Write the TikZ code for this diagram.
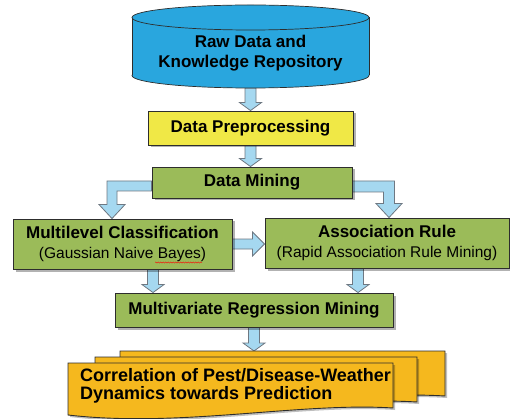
\documentclass[tikz,border=0pt]{standalone}
\usepackage{fontspec}
\setmainfont{Liberation Sans}
\usetikzlibrary{calc,shadows,backgrounds,decorations.pathmorphing}
\definecolor{cylblue}{RGB}{41,166,222}
\definecolor{arrblue}{RGB}{165,216,240}
\definecolor{arredge}{RGB}{110,120,130}
\definecolor{boxyellow}{RGB}{240,232,70}
\definecolor{boxgreen}{RGB}{155,187,89}
\definecolor{docorange}{RGB}{245,184,30}
\definecolor{edgegray}{RGB}{45,45,45}
\tikzset{
 boxbase/.style={draw=edgegray, line width=0.9pt, inner sep=0pt,
   drop shadow={shadow xshift=2.5pt,shadow yshift=-2.5pt,fill=black,opacity=0.3}},
 ybox/.style={boxbase, fill=boxyellow},
 gbox/.style={boxbase, fill=boxgreen},
 bigtxt/.style={font=\fontsize{17}{20}\selectfont\bfseries},
 twoline/.style={font=\fontsize{17}{20}\selectfont, align=center},
 barrow/.style={fill=arrblue, draw=arredge, line width=0.8pt, line join=miter},
 docsh/.style={fill=docorange, draw=edgegray, line width=0.9pt,
   drop shadow={shadow xshift=2pt,shadow yshift=-2pt,fill=black,opacity=0.25}},
}
\newcommand\vbarrow[2]{\draw[barrow] let \p1=(#1), \p2=(#2) in
  (\x1-5.5pt,\y1) -- (\x1+5.5pt,\y1) -- (\x1+5.5pt,\y2+8pt) -- (\x1+11pt,\y2+8pt)
  -- (\x1,\y2) -- (\x1-11pt,\y2+8pt) -- (\x1-5.5pt,\y2+8pt) -- cycle;}
\begin{document}
\begin{tikzpicture}[x=1pt,y=-1pt]
\useasboundingbox (0,0) rectangle (510,419);
% cylinder
\filldraw[fill=cylblue, draw=edgegray, line width=0.7pt] (250.5,75.5) ellipse [x radius=118.5pt, y radius=12.5pt];
\fill[cylblue] (132,17.5) rectangle (369,75.5);
\draw[edgegray, line width=0.7pt] (132,17.5) -- (132,75.5) (369,17.5) -- (369,75.5);
\filldraw[fill=cylblue, draw=edgegray, line width=0.7pt] (250.5,17.5) ellipse [x radius=118.5pt, y radius=12.5pt];
\node[twoline, font=\fontsize{17}{20}\selectfont\bfseries] (raw) at (250.5,53) {Raw Data and\\Knowledge Repository};
\coordinate (rawbot) at (250.5,88);
% boxes
\node[ybox, bigtxt, minimum width=205pt, minimum height=34pt] (pre) at (250.5,128) {Data Preprocessing};
\node[gbox, bigtxt, minimum width=200pt, minimum height=31pt] (dm) at (252,182.5) {Data Mining};
\node[gbox, twoline, minimum width=219pt, minimum height=50pt] (mlc) at (122.5,244)
  {{\bfseries Multilevel Classification}\\{\fontsize{15.5}{20}\selectfont (Gaussian Naive Bayes)}};
\node[gbox, twoline, minimum width=244pt, minimum height=50pt] (ar) at (387,243)
  {{\bfseries Association Rule}\\{\fontsize{15.5}{20}\selectfont (Rapid Association Rule Mining)}};
\node[gbox, bigtxt, minimum width=278pt, minimum height=34pt] (mrm) at (254,310) {Multivariate Regression Mining};
\draw[red, line width=0.4pt, decorate, decoration={snake, amplitude=0.6pt, segment length=2.5pt}] (155,262.5) -- (202,262.5);
% helper coordinates
\coordinate (e1) at (112,0);
\coordinate (e2) at (389,0);
\coordinate (c1) at (153,0);
\coordinate (c2) at (358,0);
\coordinate (doctop) at (254,351);
% arrows
\begin{scope}[on background layer]
\vbarrow{rawbot}{pre.north}
\vbarrow{pre.south}{dm.north}
\draw[barrow] let \p1=($(dm.west)+(0,3.5)$), \p2=(e1 |- mlc.north) in
  (\x1,\y1+5pt) -- (\x2-5pt,\y1+5pt) -- (\x2-5pt,\y2+14pt) -- (\x2-13pt,\y2+14pt) -- (\x2,\y2)
  -- (\x2+13pt,\y2+14pt) -- (\x2+5pt,\y2+14pt) -- (\x2+5pt,\y1-5pt) -- (\x1,\y1-5pt) -- cycle;
\draw[barrow] let \p1=($(dm.east)+(0,4)$), \p2=(e2 |- ar.north) in
  (\x1,\y1+5.5pt) -- (\x2+5.5pt,\y1+5.5pt) -- (\x2+5.5pt,\y2+14pt) -- (\x2+13pt,\y2+14pt) -- (\x2,\y2)
  -- (\x2-13pt,\y2+14pt) -- (\x2-5.5pt,\y2+14pt) -- (\x2-5.5pt,\y1-5.5pt) -- (\x1,\y1-5.5pt) -- cycle;
\draw[barrow] let \p1=(mlc.east), \p2=(ar.west) in
  (\x1,\y1+5pt) -- (\x2-12pt,\y1+5pt) -- (\x2-12pt,\y1+12pt) -- (\x2,\y1)
  -- (\x2-12pt,\y1-12pt) -- (\x2-12pt,\y1-5pt) -- (\x1,\y1-5pt) -- cycle;
\vbarrow{c1 |- mlc.south}{mrm.north}
\vbarrow{c2 |- ar.south}{mrm.north}
\vbarrow{mrm.south}{doctop}
\end{scope}
% documents
\path[docsh] (120,351) -- (445,351) -- (445,396) .. controls (350,390) and (230,416) .. (120,403) -- cycle;
\path[docsh] (95,357) -- (417,357) -- (417,402) .. controls (320,396) and (205,422) .. (95,409) -- cycle;
\path[docsh] (68,363) -- (393,363) -- (393,408) .. controls (300,402) and (180,428) .. (68,415) -- cycle;
\node[font=\fontsize{18}{18.5}\selectfont\bfseries, align=left, anchor=west, inner sep=0pt] (doc) at (80,386)
  {Correlation of Pest/Disease-Weather\\Dynamics towards Prediction};
\end{tikzpicture}
\end{document}
